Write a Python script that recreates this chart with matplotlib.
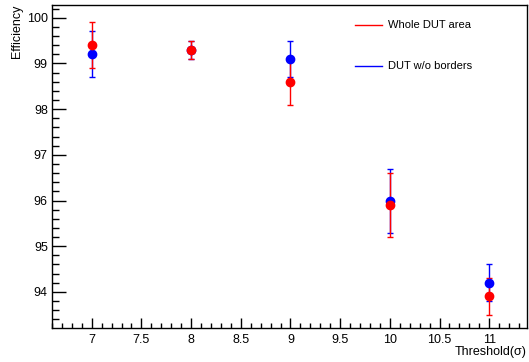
import matplotlib

matplotlib.use("Agg")
import matplotlib.pyplot as plt
from matplotlib.ticker import MultipleLocator

plt.rcParams["font.family"] = ["Liberation Sans", "DejaVu Sans"]

thresholds = [7, 8, 9, 10, 11]
whole_eff = [99.4, 99.3, 98.6, 95.9, 93.9]
whole_err = [0.5, 0.2, 0.5, 0.7, 0.4]
noborder_eff = [99.2, 99.3, 99.1, 96.0, 94.2]
noborder_err = [0.5, 0.2, 0.4, 0.7, 0.4]

fig = plt.figure(figsize=(5.29, 3.62), dpi=100)
ax = fig.add_axes([52 / 529, 34 / 362, 475 / 529, 323 / 362])

ax.errorbar(thresholds, noborder_eff, yerr=noborder_err, fmt="o", color="#0000ff",
            markersize=6, elinewidth=1, capsize=2, capthick=1)
ax.errorbar(thresholds, whole_eff, yerr=whole_err, fmt="o", color="#ff0000",
            markersize=6, elinewidth=1, capsize=2, capthick=1)

ax.set_xlim(6.6, 11.38)
ax.set_ylim(93.21, 100.28)
ax.xaxis.set_major_locator(MultipleLocator(0.5))
ax.xaxis.set_minor_locator(MultipleLocator(0.1))
ax.yaxis.set_major_locator(MultipleLocator(1))
ax.yaxis.set_minor_locator(MultipleLocator(0.2))
ax.tick_params(axis="x", which="major", direction="in", length=7, width=1, labelsize=9, top=False, pad=4)
ax.tick_params(axis="x", which="minor", direction="in", length=3.5, width=1, top=False)
ax.tick_params(axis="y", which="major", direction="in", length=10, width=1, labelsize=9, right=False, pad=3)
ax.tick_params(axis="y", which="minor", direction="in", length=5, width=1, right=False)
ax.set_xticks([7, 7.5, 8, 8.5, 9, 9.5, 10, 10.5, 11])
ax.set_xticklabels(["7", "7.5", "8", "8.5", "9", "9.5", "10", "10.5", "11"])

ax.set_xlabel("Threshold(σ)", fontsize=9)
ax.xaxis.set_label_coords(1.0, -0.056)
ax.xaxis.label.set_horizontalalignment("right")
ax.set_ylabel("Efficiency", fontsize=9)
ax.yaxis.set_label_coords(-0.062, 1.0)
ax.yaxis.label.set_verticalalignment("bottom")
ax.yaxis.label.set_horizontalalignment("right")

for s in ax.spines.values():
    s.set_linewidth(1)

# legend drawn as plain lines + text like ROOT's TLegend without border
for ypix, col, txt in [(25, "#ff0000", "Whole DUT area"), (66, "#0000ff", "DUT w/o borders")]:
    yf = 1 - ypix / 362
    fig.add_artist(plt.Line2D([355 / 529, 382 / 529], [yf, yf], color=col, lw=1))
    fig.text(388 / 529, yf, txt, fontsize=8, va="center", ha="left")

fig.savefig("out.png", dpi=100)
